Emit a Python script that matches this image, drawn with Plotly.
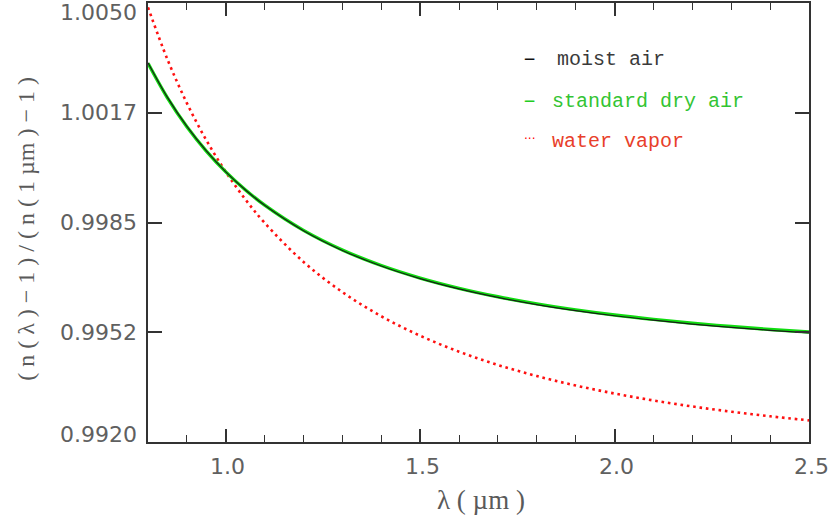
import plotly.graph_objects as go

# wavelength (µm)
wavelength = [0.80, 0.85, 0.90, 0.95, 1.00, 1.05, 1.10, 1.20, 1.30, 1.40, 1.50,
              1.60, 1.70, 1.80, 1.90, 2.00, 2.10, 2.20, 2.30, 2.40, 2.50]

# normalized refractivity (n(λ)-1)/(n(1µm)-1)
moist_air = [1.003232, 1.002204, 1.001344, 1.000618, 1.000000, 0.999469, 0.999009,
             0.998257, 0.997673, 0.997211, 0.996838, 0.996533, 0.996281, 0.996070,
             0.995891, 0.995738, 0.995607, 0.995493, 0.995394, 0.995307, 0.995231]
dry_air = [1.003216, 1.002192, 1.001337, 1.000615, 1.000000, 0.999472, 0.999014,
           0.998267, 0.997686, 0.997226, 0.996855, 0.996552, 0.996301, 0.996091,
           0.995913, 0.995761, 0.995631, 0.995518, 0.995419, 0.995333, 0.995257]
water_vapor = [1.004871, 1.003330, 1.002036, 1.000938, 1.000000, 0.999191, 0.998489,
               0.997333, 0.996438, 0.995724, 0.995147, 0.994674, 0.994281, 0.993952,
               0.993673, 0.993435, 0.993230, 0.993052, 0.992897, 0.992761, 0.992641]

y_tickvals = [0.99200, 0.99525, 0.99850, 1.00175, 1.00500]
y_ticktext = ["0.9920", "0.9952", "0.9985", "1.0017", "1.0050"]
x_tickvals = [1.0, 1.5, 2.0, 2.5]
x_ticktext = ["1.0", "1.5", "2.0", "2.5"]

legend_names = ["moist air", "standard dry air", "water vapor"]
legend_symbols = ["\u2013", "\u2013", "\u00b7\u00b7\u00b7"]
legend_colors = ["#3a3a3a", "#33c433", "#e8402a"]
symbol_colors = ["#111111", "#22cc22", "#ff0000"]

y_title = "( n ( \u03bb ) \u2212 1 ) / ( n ( 1 \u00b5m ) \u2212 1 )"
x_title = "\u03bb ( \u00b5m )"

fig = go.Figure()
fig.add_trace(go.Scatter(x=wavelength, y=water_vapor, mode="lines",
                         line=dict(color="#ff1010", width=2.6, dash="2.6px,3.8px", shape="spline"),
                         name=legend_names[2], showlegend=False))
fig.add_trace(go.Scatter(x=wavelength, y=dry_air, mode="lines",
                         line=dict(color="#10dd10", width=3.4, shape="spline"),
                         name=legend_names[1], showlegend=False))
fig.add_trace(go.Scatter(x=wavelength, y=moist_air, mode="lines",
                         line=dict(color="#1a1a1a", width=1.2, shape="spline"),
                         name=legend_names[0], showlegend=False))

tick_font = dict(family="DejaVu Sans", size=22, color="#606060")
title_font_color = "#5a5a5a"

fig.update_layout(
    width=831, height=526,
    margin=dict(l=148, r=22, t=1, b=84),
    plot_bgcolor="white", paper_bgcolor="white",
    showlegend=False,
    xaxis=dict(range=[0.8, 2.5], tickvals=x_tickvals, ticktext=x_ticktext,
               ticks="inside", ticklen=13, tickwidth=1.5, tickcolor="#333333",
               showline=True, linecolor="#333333", linewidth=1.6, mirror="ticks",
               showgrid=False, zeroline=False, showticklabels=False,
               minor=dict(dtick=0.1, tick0=0.8, ticks="inside", ticklen=7,
                          tickwidth=1.3, tickcolor="#333333", showgrid=False)),
    yaxis=dict(range=[0.9920, 1.0050], tickvals=y_tickvals, ticktext=y_ticktext,
               ticks="inside", ticklen=14, tickwidth=1.5, tickcolor="#333333",
               showline=True, linecolor="#333333", linewidth=1.6, mirror="ticks",
               showgrid=False, zeroline=False, showticklabels=False),
)

# y tick labels (end labels nudged inward like the reference)
shifts = [8, 0, 0, 0, -9]
for v, t, s in zip(y_tickvals, y_ticktext, shifts):
    fig.add_annotation(x=0, xref="paper", y=v, yref="y", text=t, showarrow=False,
                       xanchor="right", yanchor="middle", xshift=-9, yshift=s,
                       font=tick_font)

# x tick labels
for v, t in zip(x_tickvals, x_ticktext):
    fig.add_annotation(x=v, xref="x", y=0, yref="paper", text=t, showarrow=False,
                       xanchor="center", yanchor="middle", yshift=-24, xshift=2,
                       font=tick_font)

# axis titles
fig.add_annotation(x=-0.185, xref="paper", y=0.485, yref="paper",
                   text=y_title, textangle=-90, showarrow=False,
                   xanchor="center", yanchor="middle",
                   font=dict(family="Liberation Serif", size=24, color=title_font_color))
fig.add_annotation(x=0.504, xref="paper", y=-0.131, yref="paper",
                   text=x_title, showarrow=False,
                   xanchor="center", yanchor="middle",
                   font=dict(family="Liberation Serif", size=27, color=title_font_color))

# legend as text
leg_y = [(442 - 58) / 441, (442 - 100) / 441, (442 - 140) / 441]
text_x = [(555 - 148) / 661, (550 - 148) / 661, (550 - 148) / 661]
sym_x = (529 - 148) / 661
for i in range(3):
    fig.add_annotation(x=sym_x, xref="paper", y=leg_y[i], yref="paper",
                       text=legend_symbols[i], showarrow=False,
                       xanchor="center", yanchor="middle",
                       yshift=(2 if i == 2 else 0),
                       font=dict(family="DejaVu Sans" if i == 2 else "Liberation Mono",
                                 size=12 if i == 2 else 22, color=symbol_colors[i]))
    fig.add_annotation(x=text_x[i], xref="paper", y=leg_y[i], yref="paper",
                       text=legend_names[i], showarrow=False,
                       xanchor="left", yanchor="middle",
                       font=dict(family="Liberation Mono", size=20, color=legend_colors[i]))

fig.write_html("out.html")
